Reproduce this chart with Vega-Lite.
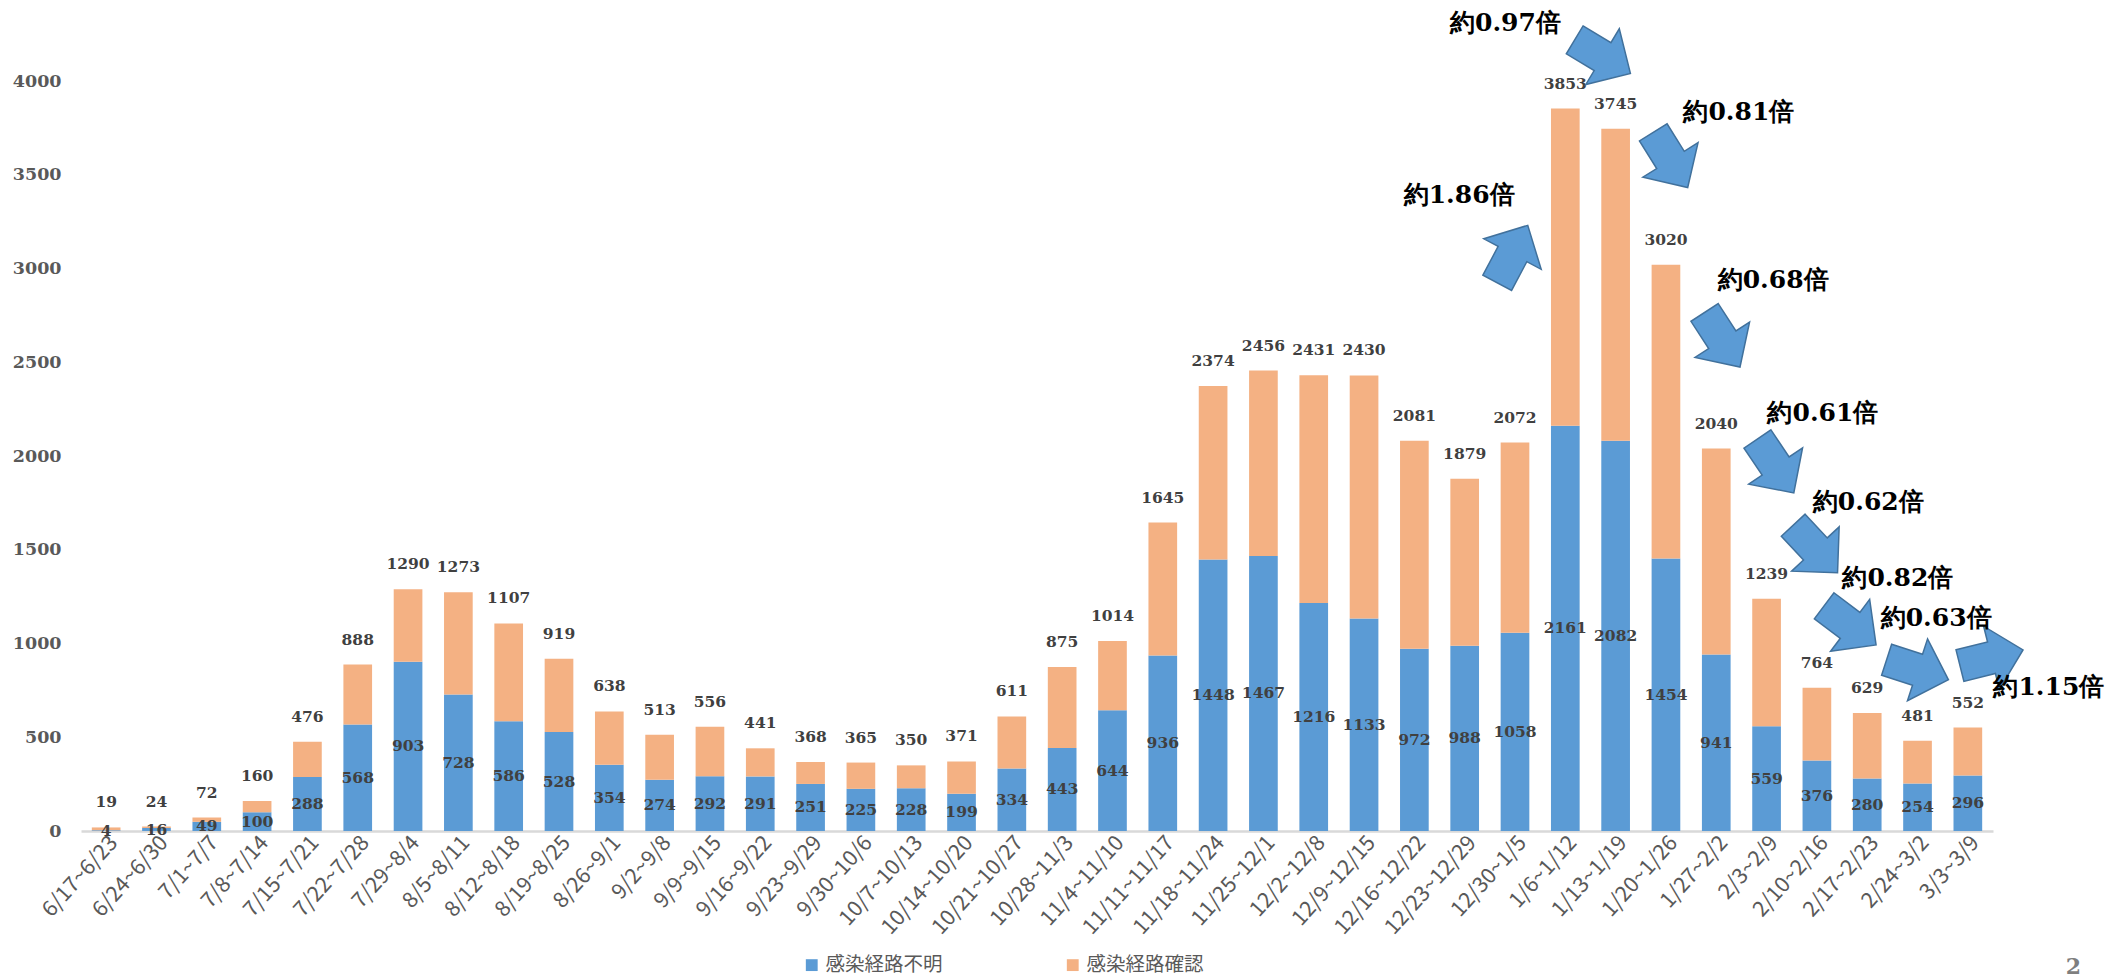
{
  "$schema": "https://vega.github.io/schema/vega-lite/v6.json",
  "width": 1912,
  "height": 750,
  "autosize": {"type": "none"},
  "padding": {"left": 81, "top": 81, "right": 127, "bottom": 147},
  "background": "white",
  "config": {"view": {"stroke": null}},
  "title": {"text": "2", "orient": "bottom", "anchor": "end", "frame": "group", "dx": 88, "offset": -18, "baseline": "top", "fontSize": 22, "font": "DejaVu Serif", "fontWeight": "bold", "color": "#7f7f7f"},
  "datasets": {
    "weeks": [
      {"week": "6/17~6/23", "感染経路不明": 4, "感染経路確認": 15},
      {"week": "6/24~6/30", "感染経路不明": 16, "感染経路確認": 8},
      {"week": "7/1~7/7", "感染経路不明": 49, "感染経路確認": 23},
      {"week": "7/8~7/14", "感染経路不明": 100, "感染経路確認": 60},
      {"week": "7/15~7/21", "感染経路不明": 288, "感染経路確認": 188},
      {"week": "7/22~7/28", "感染経路不明": 568, "感染経路確認": 320},
      {"week": "7/29~8/4", "感染経路不明": 903, "感染経路確認": 387},
      {"week": "8/5~8/11", "感染経路不明": 728, "感染経路確認": 545},
      {"week": "8/12~8/18", "感染経路不明": 586, "感染経路確認": 521},
      {"week": "8/19~8/25", "感染経路不明": 528, "感染経路確認": 391},
      {"week": "8/26~9/1", "感染経路不明": 354, "感染経路確認": 284},
      {"week": "9/2~9/8", "感染経路不明": 274, "感染経路確認": 239},
      {"week": "9/9~9/15", "感染経路不明": 292, "感染経路確認": 264},
      {"week": "9/16~9/22", "感染経路不明": 291, "感染経路確認": 150},
      {"week": "9/23~9/29", "感染経路不明": 251, "感染経路確認": 117},
      {"week": "9/30~10/6", "感染経路不明": 225, "感染経路確認": 140},
      {"week": "10/7~10/13", "感染経路不明": 228, "感染経路確認": 122},
      {"week": "10/14~10/20", "感染経路不明": 199, "感染経路確認": 172},
      {"week": "10/21~10/27", "感染経路不明": 334, "感染経路確認": 277},
      {"week": "10/28~11/3", "感染経路不明": 443, "感染経路確認": 432},
      {"week": "11/4~11/10", "感染経路不明": 644, "感染経路確認": 370},
      {"week": "11/11~11/17", "感染経路不明": 936, "感染経路確認": 709},
      {"week": "11/18~11/24", "感染経路不明": 1448, "感染経路確認": 926},
      {"week": "11/25~12/1", "感染経路不明": 1467, "感染経路確認": 989},
      {"week": "12/2~12/8", "感染経路不明": 1216, "感染経路確認": 1215},
      {"week": "12/9~12/15", "感染経路不明": 1133, "感染経路確認": 1297},
      {"week": "12/16~12/22", "感染経路不明": 972, "感染経路確認": 1109},
      {"week": "12/23~12/29", "感染経路不明": 988, "感染経路確認": 891},
      {"week": "12/30~1/5", "感染経路不明": 1058, "感染経路確認": 1014},
      {"week": "1/6~1/12", "感染経路不明": 2161, "感染経路確認": 1692},
      {"week": "1/13~1/19", "感染経路不明": 2082, "感染経路確認": 1663},
      {"week": "1/20~1/26", "感染経路不明": 1454, "感染経路確認": 1566},
      {"week": "1/27~2/2", "感染経路不明": 941, "感染経路確認": 1099},
      {"week": "2/3~2/9", "感染経路不明": 559, "感染経路確認": 680},
      {"week": "2/10~2/16", "感染経路不明": 376, "感染経路確認": 388},
      {"week": "2/17~2/23", "感染経路不明": 280, "感染経路確認": 349},
      {"week": "2/24~3/2", "感染経路不明": 254, "感染経路確認": 227},
      {"week": "3/3~3/9", "感染経路不明": 296, "感染経路確認": 256}
    ],
    "notes": [
      {"label": "約1.86倍", "tx": 26.89, "ty": 3392, "ax": 27.95, "ay": 3077},
      {"label": "約0.97倍", "tx": 27.81, "ty": 4309, "ax": 29.74, "ay": 4130},
      {"label": "約0.81倍", "tx": 32.45, "ty": 3836, "ax": 31.09, "ay": 3579},
      {"label": "約0.68倍", "tx": 33.13, "ty": 2939, "ax": 32.12, "ay": 2620},
      {"label": "約0.61倍", "tx": 34.12, "ty": 2229, "ax": 33.18, "ay": 1947},
      {"label": "約0.62倍", "tx": 35.02, "ty": 1756, "ax": 33.97, "ay": 1504},
      {"label": "約0.82倍", "tx": 35.61, "ty": 1348, "ax": 34.66, "ay": 1097},
      {"label": "約0.63倍", "tx": 36.37, "ty": 1134, "ax": 36.0, "ay": 860},
      {"label": "約1.15倍", "tx": 38.61, "ty": 770, "ax": 37.47, "ay": 924}
    ]
  },
  "layer": [
    {
      "data": {"name": "weeks"},
      "transform": [{"fold": ["感染経路不明", "感染経路確認"], "as": ["type", "count"]}],
      "encoding": {
        "x": {
          "field": "week", "type": "nominal", "sort": null,
          "scale": {"paddingInner": 0.43, "paddingOuter": 0.215},
          "axis": {"title": null, "labelAngle": -48, "labelFont": "Noto Sans CJK JP", "labelFontSize": 21.5, "labelColor": "#595959", "ticks": false, "labelPadding": 8, "labelOffset": 8, "domainColor": "#D9D9D9", "domainWidth": 2.5, "labelOverlap": false, "grid": false}
        }
      },
      "layer": [
        {
          "mark": {"type": "bar"},
          "encoding": {
            "y": {
              "field": "count", "type": "quantitative", "stack": "zero",
              "scale": {"domain": [0, 4000], "nice": false},
              "axis": {"title": null, "format": "d", "values": [0, 500, 1000, 1500, 2000, 2500, 3000, 3500, 4000], "grid": false, "domain": false, "ticks": false, "labelFont": "DejaVu Serif", "labelFontWeight": "bold", "labelFontSize": 17.5, "labelColor": "#595959", "labelPadding": 20}
            },
            "color": {
              "field": "type", "type": "nominal",
              "scale": {"domain": ["感染経路不明", "感染経路確認"], "range": ["#5B9BD5", "#F4B183"]},
              "legend": {"title": null, "orient": "none", "legendX": 721, "legendY": 874, "direction": "horizontal", "symbolType": "square", "symbolSize": 140, "symbolStrokeWidth": 0, "labelFont": "Noto Sans CJK JP", "labelFontSize": 19.5, "labelColor": "#595959", "labelOffset": 4, "columnPadding": 120}
            },
            "order": {"field": "type", "sort": "ascending"}
          }
        },
        {
          "mark": {"type": "text", "font": "DejaVu Serif", "fontWeight": "bold", "fontSize": 15.5, "color": "#404040", "baseline": "middle", "dy": -25},
          "encoding": {
            "y": {"aggregate": "sum", "field": "count", "type": "quantitative"},
            "text": {"aggregate": "sum", "field": "count", "type": "quantitative"}
          }
        }
      ]
    },
    {
      "data": {"name": "weeks"},
      "mark": {"type": "text", "font": "DejaVu Serif", "fontWeight": "bold", "fontSize": 15.5, "color": "#404040", "baseline": "middle"},
      "encoding": {
        "x": {"field": "week", "type": "nominal", "sort": null, "scale": {"paddingInner": 0.43, "paddingOuter": 0.215}, "axis": null},
        "y": {"field": "感染経路不明", "type": "quantitative", "scale": {"domain": [0, 8000], "nice": false}, "axis": null},
        "text": {"field": "感染経路不明", "type": "quantitative"}
      }
    },
    {
      "data": {"name": "notes"},
      "encoding": {
        "x": {"field": "ax", "type": "quantitative", "scale": {"domain": [-0.5, 37.5], "nice": false, "zero": false}, "axis": null},
        "y": {"field": "ay", "type": "quantitative", "scale": {"domain": [0, 4000], "nice": false}, "axis": null}
      },
      "layer": [
        {"transform": [{"filter": "datum.label === '約1.86倍'"}], "mark": {"type": "point", "shape": "M-1,-0.5L0,-0.5L0,-1L1,0L0,1L0,0.5L-1,0.5Z", "size": 4225, "angle": -62, "filled": true, "fill": "#5B9BD5", "stroke": "#41719C", "strokeWidth": 1.5, "opacity": 1}},
        {"transform": [{"filter": "datum.label === '約0.97倍'"}], "mark": {"type": "point", "shape": "M-1,-0.5L0,-0.5L0,-1L1,0L0,1L0,0.5L-1,0.5Z", "size": 4225, "angle": 31, "filled": true, "fill": "#5B9BD5", "stroke": "#41719C", "strokeWidth": 1.5, "opacity": 1}},
        {"transform": [{"filter": "datum.label === '約0.81倍'"}], "mark": {"type": "point", "shape": "M-1,-0.5L0,-0.5L0,-1L1,0L0,1L0,0.5L-1,0.5Z", "size": 4225, "angle": 58, "filled": true, "fill": "#5B9BD5", "stroke": "#41719C", "strokeWidth": 1.5, "opacity": 1}},
        {"transform": [{"filter": "datum.label === '約0.68倍'"}], "mark": {"type": "point", "shape": "M-1,-0.5L0,-0.5L0,-1L1,0L0,1L0,0.5L-1,0.5Z", "size": 4225, "angle": 57, "filled": true, "fill": "#5B9BD5", "stroke": "#41719C", "strokeWidth": 1.5, "opacity": 1}},
        {"transform": [{"filter": "datum.label === '約0.61倍'"}], "mark": {"type": "point", "shape": "M-1,-0.5L0,-0.5L0,-1L1,0L0,1L0,0.5L-1,0.5Z", "size": 4225, "angle": 56, "filled": true, "fill": "#5B9BD5", "stroke": "#41719C", "strokeWidth": 1.5, "opacity": 1}},
        {"transform": [{"filter": "datum.label === '約0.62倍'"}], "mark": {"type": "point", "shape": "M-1,-0.5L0,-0.5L0,-1L1,0L0,1L0,0.5L-1,0.5Z", "size": 4225, "angle": 47, "filled": true, "fill": "#5B9BD5", "stroke": "#41719C", "strokeWidth": 1.5, "opacity": 1}},
        {"transform": [{"filter": "datum.label === '約0.82倍'"}], "mark": {"type": "point", "shape": "M-1,-0.5L0,-0.5L0,-1L1,0L0,1L0,0.5L-1,0.5Z", "size": 4225, "angle": 37, "filled": true, "fill": "#5B9BD5", "stroke": "#41719C", "strokeWidth": 1.5, "opacity": 1}},
        {"transform": [{"filter": "datum.label === '約0.63倍'"}], "mark": {"type": "point", "shape": "M-1,-0.5L0,-0.5L0,-1L1,0L0,1L0,0.5L-1,0.5Z", "size": 4225, "angle": 18, "filled": true, "fill": "#5B9BD5", "stroke": "#41719C", "strokeWidth": 1.5, "opacity": 1}},
        {"transform": [{"filter": "datum.label === '約1.15倍'"}], "mark": {"type": "point", "shape": "M-1,-0.5L0,-0.5L0,-1L1,0L0,1L0,0.5L-1,0.5Z", "size": 4225, "angle": -14, "filled": true, "fill": "#5B9BD5", "stroke": "#41719C", "strokeWidth": 1.5, "opacity": 1}},
        {
          "mark": {"type": "text", "font": "DejaVu Serif", "fontWeight": "bold", "fontSize": 25, "color": "#000000", "baseline": "middle", "align": "center"},
          "encoding": {
            "x": {"field": "tx", "type": "quantitative"},
            "y": {"field": "ty", "type": "quantitative"},
            "text": {"field": "label", "type": "nominal"}
          }
        }
      ]
    }
  ],
  "resolve": {"scale": {"x": "independent", "y": "independent"}}
}
